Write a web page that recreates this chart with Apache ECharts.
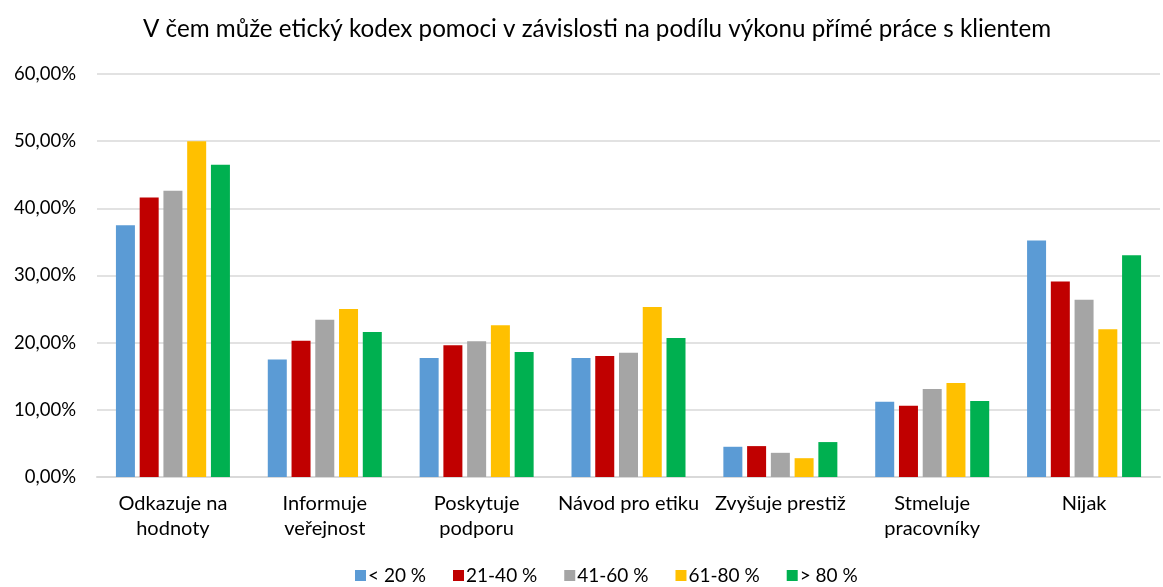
<!DOCTYPE html>
<html>
<head>
<meta charset="utf-8">
<script src="https://cdn.jsdelivr.net/npm/echarts@6/dist/echarts.min.js"></script>
<style>
  html, body { margin: 0; padding: 0; background: #fff; }
  #chart { width: 1163px; height: 587px; }
</style>
</head>
<body>
<div id="chart"></div>
<script>
const categories = [
  'Odkazuje na\nhodnoty',
  'Informuje\nveřejnost',
  'Poskytuje\npodporu',
  'Návod pro etiku',
  'Zvyšuje prestiž',
  'Stmeluje\npracovníky',
  'Nijak'
]
const seriesNames = ['< 20 %', '21-40 %', '41-60 %', '61-80 %', '> 80 %']
const colors = ['#5b9bd5', '#c00000', '#a5a5a5', '#ffc000', '#00b050']

const under20 = [37.5, 17.5, 17.7, 17.7, 4.5, 11.2, 35.2]
const from21to40 = [41.6, 20.3, 19.6, 18.0, 4.6, 10.6, 29.1]
const from41to60 = [42.6, 23.4, 20.2, 18.5, 3.6, 13.1, 26.4]
const from61to80 = [50.0, 25.0, 22.6, 25.3, 2.8, 14.0, 22.0]
const over80 = [46.5, 21.6, 18.6, 20.7, 5.2, 11.3, 33.0]
const values = [under20, from21to40, from41to60, from61to80, over80]

const chart = echarts.init(document.getElementById('chart'))

const font = 'Lato, "Noto Sans", sans-serif'
const fmt = v => v.toFixed(2).replace('.', ',') + '%'

chart.setOption({
  animation: false,
  textStyle: { fontFamily: font },
  title: {
    text: 'V čem může etický kodex pomoci v závislosti na podílu výkonu přímé práce s klientem',
    left: 138,
    top: 12,
    textStyle: { fontSize: 24.2, fontWeight: 'normal', color: '#000', fontFamily: font }
  },
  legend: {
    bottom: -3,
    left: 350,
    itemWidth: 11,
    itemHeight: 11,
    itemGap: 27,
    icon: 'rect',
    textStyle: { fontSize: 19, color: '#000', padding: [0, 0, 0, -3] },
    data: seriesNames
  },
  grid: { left: 97, right: 3, top: 74, bottom: 110 },
  xAxis: {
    type: 'category',
    data: categories,
    axisTick: { show: false },
    axisLine: { lineStyle: { color: '#d9d9d9', width: 2 } },
    axisLabel: { fontSize: 20, color: '#000', margin: 14, lineHeight: 25, interval: 0 }
  },
  yAxis: {
    type: 'value',
    min: 0,
    max: 60,
    interval: 10,
    axisLabel: { fontSize: 18.5, color: '#000', margin: 21, formatter: fmt },
    axisLine: { show: false },
    axisTick: { show: false },
    splitLine: { lineStyle: { color: '#d9d9d9', width: 1.5 } }
  },
  series: seriesNames.map((name, i) => ({
    name,
    type: 'bar',
    data: values[i],
    barWidth: 19,
    barGap: '25%',
    itemStyle: { color: colors[i] }
  }))
})
</script>
</body>
</html>
